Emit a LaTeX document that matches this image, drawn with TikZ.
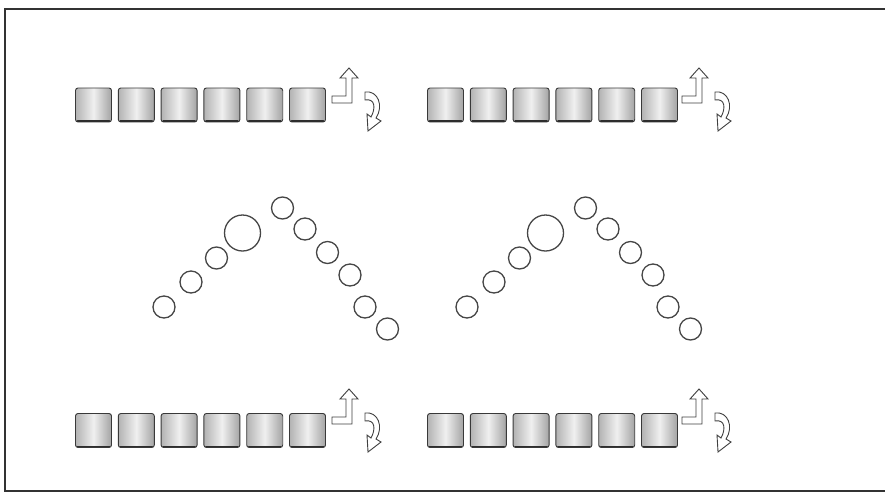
\documentclass[tikz,border=0pt]{standalone}
\begin{document}
\begin{tikzpicture}[x=1pt,y=-1pt,
  keybox/.style={rectangle, rounded corners=2.5pt, minimum width=36pt, minimum height=34pt,
    inner sep=0pt, draw=gray!45!black, line width=0.9pt,
    left color=gray!60, right color=gray!72, middle color=gray!12},
  ring/.style={circle, draw=gray!55!black, line width=1.3pt, inner sep=0pt, minimum size=22pt},
  bigring/.style={ring, minimum size=36pt},
  outline/.style={draw=gray!50!black, fill=white, line width=0.9pt, line join=miter},
  frameline/.style={draw=gray!40!black, line width=1.5pt}
]
\useasboundingbox (0,0) rectangle (885,493);
\fill[white] (0,0) rectangle (885,493);
\draw[frameline] (890,9) -- (5,9) -- (5,491) -- (890,491);

% key rows
\foreach \row/\yy in {t/105,b/430.5}{
  \foreach \col/\xx in {l/0,r/352}{
    \foreach \k in {0,...,5}{
      \node[keybox] (key-\row\col\k) at ({93.5+42.8*\k+\xx},\yy) {};
      \draw[gray!35!black, line width=1.6pt, line cap=round]
        ([xshift=2.5pt,yshift=1.6pt]key-\row\col\k.south west) -- ([xshift=-2.5pt,yshift=1.6pt]key-\row\col\k.south east);
    }
  }
}

% arrows next to each row
\foreach \dx/\dy in {0/0,350/0,0/321,350/321}{
  \begin{scope}[shift={(\dx,\dy)}]
    \path[outline] (332,103) -- (352,103) -- (352,78) -- (358,78) -- (349,68)
      -- (340,78) -- (346,78) -- (346,96) -- (332,96) -- cycle;
    \path[outline] (365,92) .. controls (378,90) and (384,106) .. (376,118)
      -- (381,121) -- (368,131) -- (367,114) -- (371,117)
      .. controls (376,108) and (375,98) .. (365,100) -- cycle;
  \end{scope}
}

% circle arches
\foreach \g/\dx in {l/0,r/303}{
  \node[ring] (c\g1) at ({164+\dx},307) {};
  \node[ring] (c\g2) at ({191+\dx},282) {};
  \node[ring] (c\g3) at ({216.5+\dx},258) {};
  \node[bigring] (c\g4) at ({242.5+\dx},233) {};
  \node[ring] (c\g5) at ({282.5+\dx},208) {};
  \node[ring] (c\g6) at ({305+\dx},229) {};
  \node[ring] (c\g7) at ({327.5+\dx},252.5) {};
  \node[ring] (c\g8) at ({350+\dx},275) {};
  \node[ring] (c\g9) at ({365+\dx},307) {};
  \node[ring] (c\g10) at ({387.5+\dx},329) {};
}
\end{tikzpicture}
\end{document}
